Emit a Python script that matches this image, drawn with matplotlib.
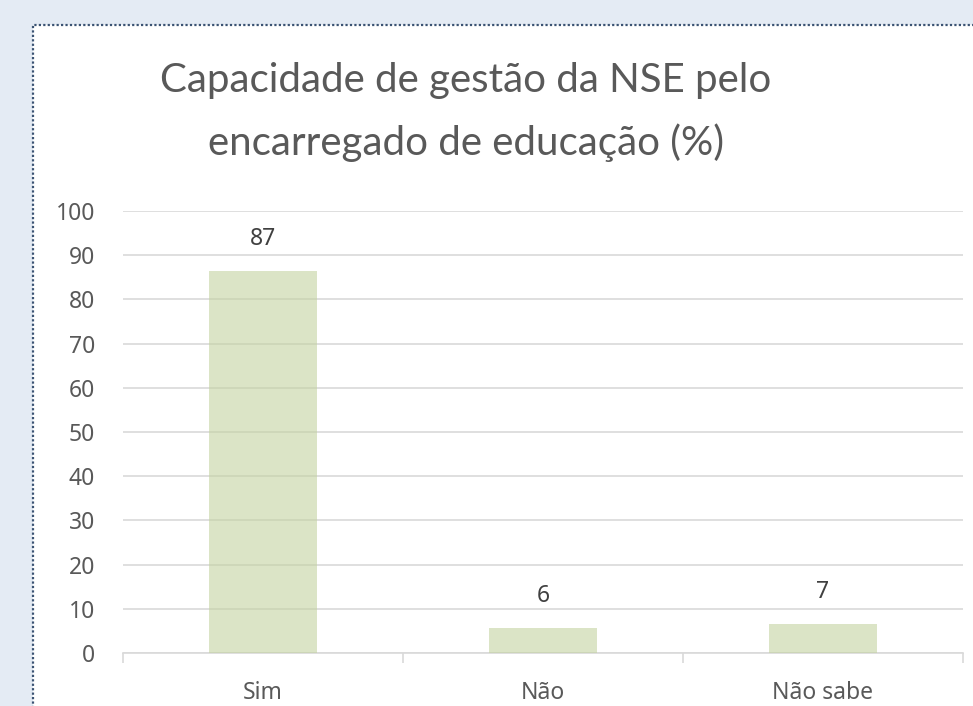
import numpy as np
import matplotlib.pyplot as plt
from matplotlib.patches import Rectangle

plt.rcParams['font.family'] = ['Noto Sans', 'DejaVu Sans']

categories = ['Sim', 'Não', 'Não sabe']
values = [86.5, 5.6, 6.6]
labels = ['87', '6', '7']
yticks = list(range(0, 101, 10))

W, H = 973, 706
fig = plt.figure(figsize=(W / 100, H / 100), dpi=100)
fig.patch.set_facecolor('#e4ebf4')

# white panel with dotted border
panel = Rectangle((33 / W, -0.1), 1.2, 1.1 - 25 / H, transform=fig.transFigure,
                  facecolor='white', edgecolor='#3b5373', linestyle=(0, (1, 1)),
                  linewidth=1.6, zorder=-5)
fig.patches.append(panel)

ax = fig.add_axes([123 / W, (H - 653) / H, 840 / W, 442 / H])
ax.set_facecolor('none')
x = np.arange(len(categories))
ax.bar(x, values, width=0.386, color='#c4d3a0', alpha=0.6, zorder=3)
for xi, v, lab in zip(x, values, labels):
    ax.text(xi, v + 4.5, lab, ha='center', va='bottom', fontsize=16.5, color='#404040')

ax.set_xlim(-0.5, 2.5)
ax.set_ylim(0, 100)
ax.set_yticks(yticks)
ax.yaxis.grid(True, color='#d9d9d9', linewidth=1.2, zorder=1)
ax.set_axisbelow(True)
for s in ['top', 'right', 'left']:
    ax.spines[s].set_visible(False)
ax.spines['bottom'].set_color('#d9d9d9')
ax.spines['bottom'].set_linewidth(1.2)
ax.tick_params(axis='y', length=0, labelsize=16.5, labelcolor='#595959', pad=20)
ax.set_xticks(x)
ax.set_xticklabels(categories)
ax.set_xticks([-0.5, 0.5, 1.5, 2.5], minor=True)
ax.tick_params(axis='x', which='major', length=0, labelsize=16.5, labelcolor='#595959', pad=20)
ax.tick_params(axis='x', which='minor', length=7, color='#d9d9d9', width=1.2)

fig.text(466 / W, 1 - 112 / H, 'Capacidade de gestão da NSE pelo\nencarregado de educação (%)',
         ha='center', va='center', fontsize=29, color='#595959', linespacing=1.75,
         family=['Lato', 'DejaVu Sans'])

fig.savefig('out.png', dpi=100, facecolor=fig.get_facecolor())
